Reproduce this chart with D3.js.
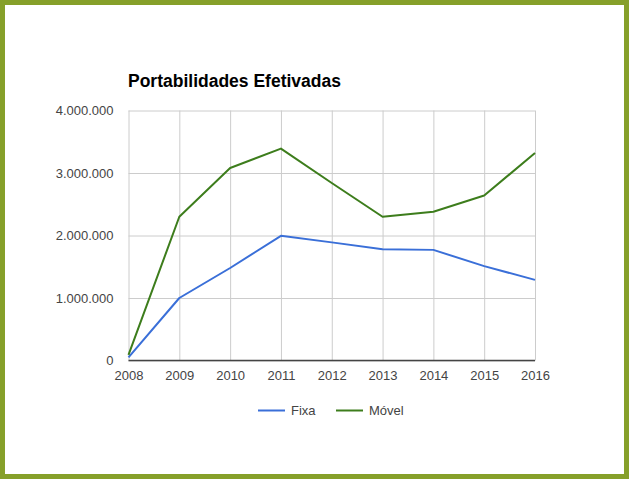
<!DOCTYPE html>
<html>
<head>
<meta charset="utf-8">
<script src="https://cdn.jsdelivr.net/npm/d3@7"></script>
<style>
  html, body { margin: 0; padding: 0; background: #fff; }
  svg { display: block; }
</style>
</head>
<body>
<svg id="vis" width="629" height="479"></svg>
<script>
// chart data
var years = [2008, 2009, 2010, 2011, 2012, 2013, 2014, 2015, 2016];
var fixa  = [50000, 1000000, 1480000, 1995000, 1890000, 1780000, 1770000, 1510000, 1290000];
var movel = [90000, 2300000, 3080000, 3390000, 2840000, 2300000, 2380000, 2640000, 3320000];
var yTicks = [0, 1000000, 2000000, 3000000, 4000000];
var seriesNames = ["Fixa", "Móvel"];
var seriesColors = ["#3a6fd8", "#3d7d1c"];

var svg = d3.select("#vis");
var font = "Liberation Sans, Arial, sans-serif";

// green frame
svg.append("rect")
	.attr("x", 2.5).attr("y", 2.5)
	.attr("width", 624).attr("height", 474)
	.attr("fill", "#fff")
	.attr("stroke", "#86a02a")
	.attr("stroke-width", 5);

// plot box (note: "top" is a reserved window prop, so prefixed names)
var plotL = 128.5, plotR = 535, plotT = 110.5, plotB = 360.5;

var x = d3.scalePoint().domain(years).range([plotL, plotR]);
var y = d3.scaleLinear().domain([0, 4000000]).range([plotB, plotT]);

var fmt = function(d){ return d3.format(",")(d).replace(/,/g, "."); };

// title
svg.append("text")
	.attr("x", 128).attr("y", 86.5)
	.attr("font-family", font)
	.attr("font-size", 17.5)
	.attr("font-weight", "bold")
	.attr("fill", "#000")
	.text("Portabilidades Efetivadas");

// horizontal grid + y labels
var yAxis = d3.axisLeft(y).tickValues(yTicks).tickSize(-(plotR - plotL)).tickFormat(fmt).tickPadding(15);
var gy = svg.append("g").attr("transform", "translate(" + plotL + ",0)").call(yAxis);
gy.select(".domain").remove();
gy.selectAll("line").attr("stroke", "#cccccc");
gy.selectAll("text").attr("font-family", font).attr("font-size", 13).attr("fill", "#444");

// vertical grid + x labels
var xAxis = d3.axisBottom(x).tickSize(-(plotB - plotT));
var gx = svg.append("g").attr("transform", "translate(0," + plotB + ")").call(xAxis);
gx.select(".domain").remove();
gx.selectAll("line").attr("stroke", "#cccccc");
gx.selectAll("text").attr("font-family", font).attr("font-size", 13).attr("fill", "#444")
	.attr("y", 10);

// baseline
svg.append("line")
	.attr("x1", plotL).attr("x2", plotR)
	.attr("y1", y(0)).attr("y2", y(0))
	.attr("stroke", "#444").attr("stroke-width", 1.5);

// lines
var line = d3.line()
	.x(function(d, i){ return x(years[i]); })
	.y(function(d){ return y(d); });

[fixa, movel].forEach(function(s, i){
	svg.append("path")
		.datum(s)
		.attr("d", line)
		.attr("fill", "none")
		.attr("stroke", seriesColors[i])
		.attr("stroke-width", 2)
		.attr("stroke-linejoin", "round");
});

// legend
var legendX = [258, 336];
seriesNames.forEach(function(name, i){
	var g = svg.append("g").attr("transform", "translate(" + legendX[i] + ",410.5)");
	g.append("line")
		.attr("x1", 0).attr("x2", 27)
		.attr("stroke", seriesColors[i]).attr("stroke-width", 2);
	g.append("text")
		.attr("x", 33).attr("y", 4.5)
		.attr("font-family", font).attr("font-size", 13).attr("fill", "#444")
		.text(name);
});
</script>
</body>
</html>
